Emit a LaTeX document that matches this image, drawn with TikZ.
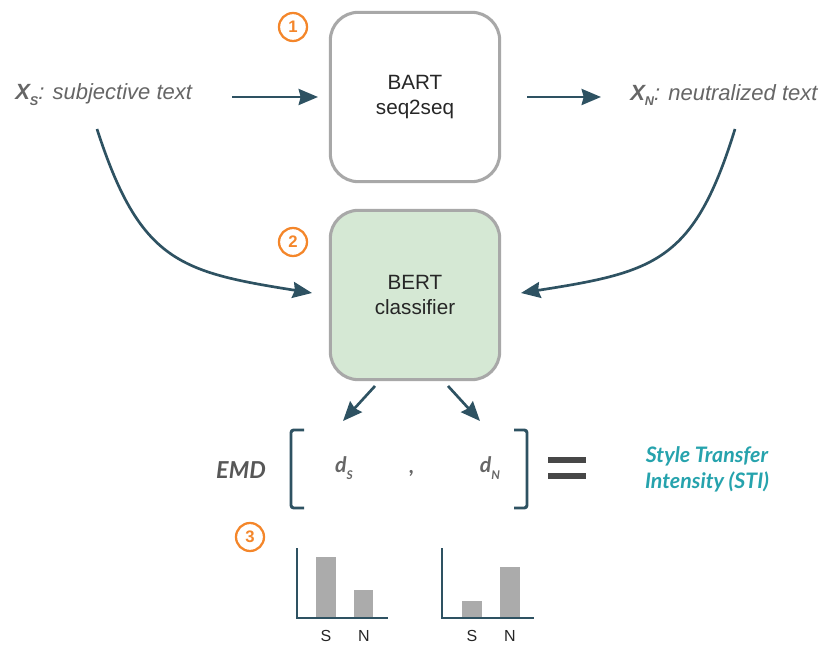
\documentclass[tikz,border=0pt]{standalone}
\usepackage{fontspec}
\setmainfont{Liberation Sans}
\newfontfamily\latofont{Lato}
\usetikzlibrary{arrows.meta}
\definecolor{arrc}{HTML}{2E5262}
\definecolor{boxline}{HTML}{A8A8A8}
\definecolor{greenfill}{HTML}{D5E8D4}
\definecolor{orangec}{HTML}{F4862A}
\definecolor{txtgray}{HTML}{666666}
\definecolor{tealc}{HTML}{26A3AD}
\definecolor{barc}{HTML}{ABABAB}
\tikzset{
  modelbox/.style={draw=boxline, line width=2.3pt, rounded corners=21pt, minimum width=127pt, minimum height=127pt, align=center, font=\fontsize{15.5}{19}\selectfont, text=black!85},
  numcirc/.style={circle, draw=orangec, line width=1.7pt, minimum size=21pt, inner sep=0pt, text=orangec, font=\fontsize{12.5}{12.5}\selectfont\bfseries},
  flow/.style={arrc, line width=2pt, -{Stealth[length=14.5pt,width=12pt,inset=1.5pt]}},
  lbl/.style={text=txtgray, font=\fontsize{16.5}{19}\selectfont\itshape, inner sep=0pt},
  bracketln/.style={arrc, line width=2.2pt, rounded corners=2pt},
  axisln/.style={arrc, line width=1.8pt},
  bar/.style={fill=barc, draw=none},
  axlbl/.style={font=\fontsize{12}{13}\selectfont, text=black!85, inner sep=0pt},
  mathlbl/.style={font=\latofont\fontsize{16}{18}\selectfont\bfseries\itshape, text=txtgray},
}
\begin{document}
\begin{tikzpicture}[x=0.75pt,y=-0.75pt]
\useasboundingbox (0,0) rectangle (822,645);
\fill[white] (0,0) rectangle (822,645);

% models
\node[modelbox, fill=white] (bart) at (415,97) {BART\\seq2seq};
\node[modelbox, fill=greenfill] (bert) at (415,295) {BERT\\classifier};
\node[numcirc] (c1) at (293,27) {1};
\node[numcirc] (c2) at (293,242) {2};
\node[numcirc] (c3) at (250,537) {3};

% input / output labels
\node[lbl, anchor=west] (xs) at (15,95) {{\bfseries X}\raisebox{-0.5ex}{\fontsize{9.5}{9.5}\selectfont\bfseries S}: subjective text};
\node[lbl, anchor=west] (xn) at (630,95) {{\bfseries X}\raisebox{-0.5ex}{\fontsize{9.5}{9.5}\selectfont\bfseries N}: neutralized text};

\coordinate (a1s) at (232,97);
\coordinate (a1e) at (318,97);
\coordinate (a2s) at (527,97);
\coordinate (a2e) at (601,97);
\draw[flow] (a1s) -- (a1e);
\draw[flow] (a2s) -- (a2e);

\coordinate (cls) at (97,129);
\coordinate (cle) at (312,293);
\coordinate (crs) at (735,129);
\coordinate (cre) at (521,293);
\draw[flow] (cls) .. controls (140,262) and (180,272) .. (cle);
\draw[flow] (crs) .. controls (694,262) and (655,272) .. (cre);

\coordinate (d1s) at (375,386);
\coordinate (d1e) at (343,421);
\coordinate (d2s) at (448,386);
\coordinate (d2e) at (480,421);
\draw[flow] (d1s) -- (d1e);
\draw[flow] (d2s) -- (d2e);

% EMD expression
\node[font=\latofont\fontsize{17.5}{19}\selectfont\bfseries\itshape, text=txtgray!85!black] (emd) at (241,470) {EMD};
\draw[bracketln] (304,430) -- (291,430) -- (291,508) -- (304,508);
\draw[bracketln] (514,430) -- (527,430) -- (527,508) -- (514,508);
\node[mathlbl] (ds) at (344,468) {d\raisebox{-0.6ex}{\fontsize{9}{9}\selectfont S}};
\node[mathlbl] (comma) at (412,473) {,};
\node[mathlbl] (dn) at (490,468) {d\raisebox{-0.6ex}{\fontsize{9}{9}\selectfont N}};
\fill[black!72] (548,457) rectangle (586,463.5);
\fill[black!72] (548,473) rectangle (586,479.5);
\node[font=\latofont\fontsize{16}{19.5}\selectfont\bfseries\itshape, text=tealc, align=center] (sti) at (707,469) {Style Transfer\\Intensity (STI)};

% bar chart 1
\fill[bar] (316,557) rectangle (336,618);
\fill[bar] (354,590) rectangle (373,618);
\draw[axisln] (297,548) -- (297,618) -- (388,618);
\node[axlbl] (s1) at (326,636) {S};
\node[axlbl] (n1) at (364,636) {N};

% bar chart 2
\fill[bar] (462,601) rectangle (482,618);
\fill[bar] (500,567) rectangle (520,618);
\draw[axisln] (442,548) -- (442,618) -- (534,618);
\node[axlbl] (s2) at (472,636) {S};
\node[axlbl] (n2) at (510,636) {N};
\end{tikzpicture}
\end{document}
